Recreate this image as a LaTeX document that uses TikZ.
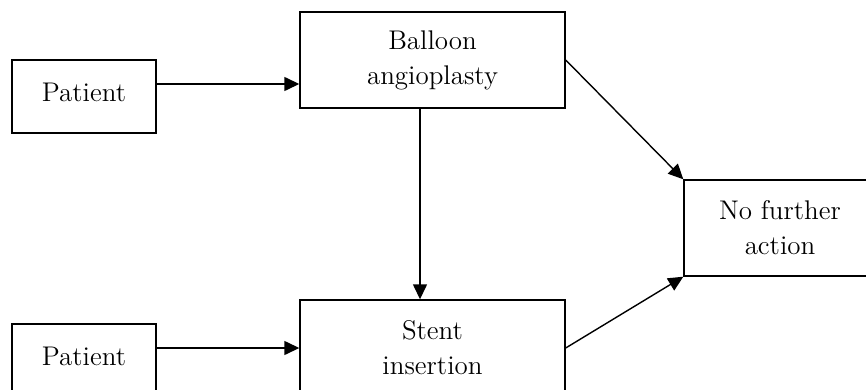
\documentclass[tikz,border=0pt]{standalone}
\usepackage{tikz}
\usetikzlibrary{
  arrows.meta,
  positioning,
  calc
}
\tikzset{
  step box/.style={
    draw, rectangle, line width=0.7pt,
    minimum width=132.5pt, minimum height=48pt,
    align=center, inner sep=0pt,
    font=\fontsize{13.5}{17.5}\selectfont
  },
  source box/.style={
    step box,
    minimum width=72pt, minimum height=36.5pt,
    text depth=0.45em
  },
  flow arrow/.style={
    -{Triangle[length=7.5pt, width=7pt]}, line width=0.7pt
  },
}

\begin{document}
\begin{tikzpicture}[x=0.5pt, y=-0.5pt]

  \useasboundingbox (0,0) rectangle (866,390);
  \clip (0,0) rectangle (866,390);

  % Patients
  \node[source box] (patA) at (84,96.5) {Patient};
  \node[source box] (patB) at (84,360.5) {Patient};

  % Treatments
  \node[step box] (balloon) at (432.5,60) {Balloon\\angioplasty};
  \node[step box] (stent) at (432.5,348) {Stent\\insertion};

  % Outcome
  \node[step box, minimum width=96pt] (noaction) at (780,228)
    {No further\\action};

  % Arrows
  \draw[flow arrow] ([yshift=6.25pt]patA.east) -- ([yshift=6.25pt]patA.east -| balloon.west);
  \draw[flow arrow] ([yshift=6.25pt]patB.east) -- (stent.west);
  \draw[flow arrow] ([xshift=-6.25pt]balloon.south) -- ([xshift=-6.25pt]stent.north);
  \draw[flow arrow] (balloon.east) -- (noaction.north west);
  \draw[flow arrow] (stent.east) -- (noaction.south west);

\end{tikzpicture}
\end{document}
